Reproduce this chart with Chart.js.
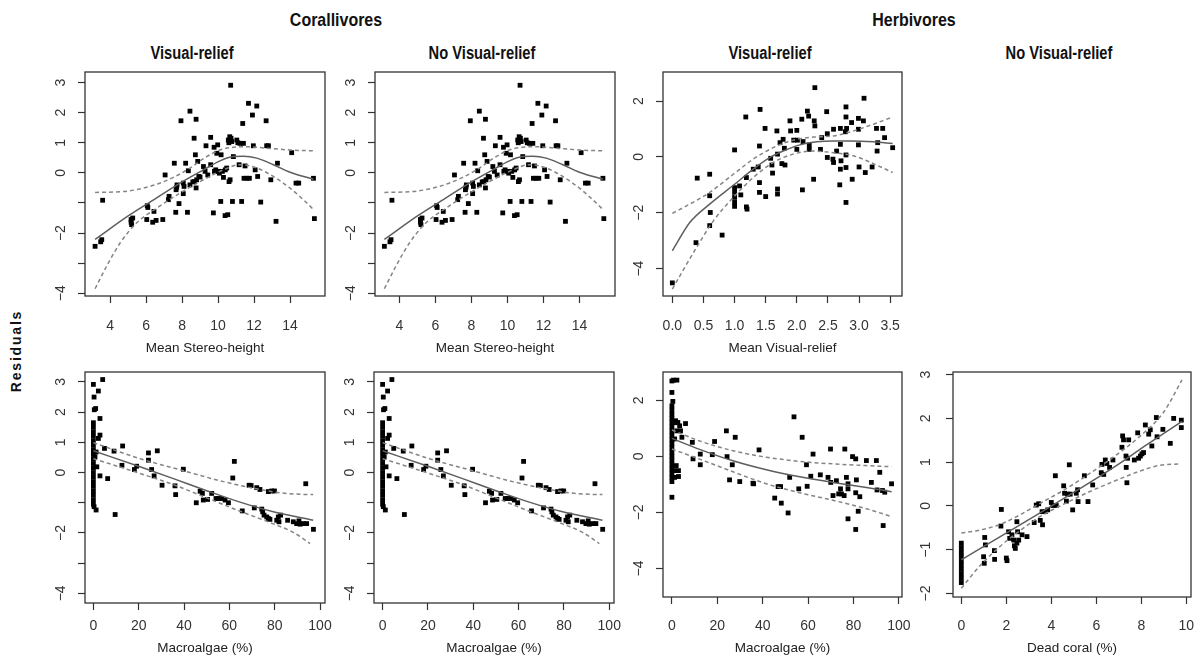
<!DOCTYPE html>
<html>
<head>
<meta charset="utf-8">
<script src="https://cdn.jsdelivr.net/npm/chart.js@4.4.1/dist/chart.umd.min.js"></script>
<style>
  body { margin: 0; background: #fff; }
  #wrap { position: relative; width: 1201px; height: 659px; overflow: hidden; }
  #wrap canvas { position: absolute; }
  .lbl { position: absolute; transform: translate(-50%, -50%) scaleX(0.84); white-space: nowrap; color: #111;
         font-family: 'Liberation Sans', Arial, sans-serif; font-weight: bold; }
</style>
</head>
<body>
<div id="wrap">
  <div class="lbl" style="left:336px;top:20px;font-size:19px;">Corallivores</div>
  <div class="lbl" style="left:914px;top:20px;font-size:19px;">Herbivores</div>
  <div class="lbl" style="left:192px;top:53px;font-size:17.5px;">Visual-relief</div>
  <div class="lbl" style="left:482px;top:53px;font-size:17.5px;">No Visual-relief</div>
  <div class="lbl" style="left:770px;top:53px;font-size:17.5px;">Visual-relief</div>
  <div class="lbl" style="left:1059px;top:53px;font-size:17.5px;">No Visual-relief</div>
  <div class="lbl" style="left:16px;top:351px;font-size:14px;letter-spacing:1.8px;transform:translate(-50%,-50%) rotate(-90deg);">Residuals</div>
</div>
<script>
// residual points, [x, y]
const stereoPts = [[3.17,-2.44],[3.48,-2.29],[3.54,-2.22],[3.59,-0.91],[5.17,-1.55],[5.17,-1.64],[5.2,-1.72],[5.26,-1.5],
  [6.04,-1.55],[6.07,-1.09],[6.1,-1.15],[6.44,-1.28],[6.37,-1.64],[6.56,-1.58],[6.93,-1.55],[7.06,-0.07],[7.24,-0.89],
  [7.28,-0.78],[7.57,0.32],[7.65,-1.31],[7.67,-0.56],[7.7,-0.48],[7.72,-0.4],[7.83,-1.02],[7.94,1.73],[8.07,-0.34],[8.11,-0.45],
  [8.07,-0.69],[8.2,0.32],[8.3,-1.31],[8.35,0.07],[8.44,2.05],[8.44,-0.4],[8.6,-0.3],[8.67,1.15],[8.69,-0.29],[8.74,0.6],
  [8.78,1.78],[8.78,-0.5],[8.81,-0.23],[8.87,0.38],[8.93,-0.12],[9.0,-0.14],[9.19,0.21],[9.28,0.05],[9.33,0.9],[9.43,-0.07],
  [9.59,1.18],[9.59,0.27],[9.74,-1.33],[9.78,0.85],[9.8,0.05],[9.87,0.1],[9.93,0.65],[9.98,0.93],[10.02,0.05],[10.07,-0.01],
  [10.15,-0.95],[10.17,0.6],[10.24,0.05],[10.3,-0.15],[10.39,-1.42],[10.4,0.1],[10.48,0.16],[10.54,-1.39],[10.57,1.09],
  [10.6,1.0],[10.61,-0.29],[10.65,1.2],[10.67,-0.23],[10.7,2.91],[10.72,1.15],[10.76,1.04],[10.8,-0.95],[10.85,0.54],
  [11.04,1.09],[11.1,1.0],[11.17,0.27],[11.22,0.98],[11.31,-0.95],[11.37,1.64],[11.41,0.98],[11.44,-0.18],[11.5,0.23],
  [11.59,-0.18],[11.69,2.31],[11.74,-0.18],[11.91,1.92],[11.96,0.9],[12.06,0.1],[12.15,2.22],[12.2,-0.12],[12.37,-0.97],
  [12.67,1.73],[12.7,0.9],[12.8,0.9],[12.93,-0.23],[13.22,-1.61],[13.3,0.32],[14.09,0.67],[14.33,-0.34],[14.48,-0.34],
  [15.3,-0.18],[15.35,-1.52]];
const stereoFit = [[3.17,-2.21],[5.11,-1.39],[6.22,-0.97],[7.89,-0.34],[9.19,0.1],[10.11,0.4],[10.85,0.54],[11.41,0.55],
  [12.15,0.49],[13.07,0.27],[14.0,0.02],[15.3,-0.21]];
const stereoUp = [[3.17,-0.65],[4.74,-0.62],[6.22,-0.45],[7.52,-0.15],[8.44,0.16],[9.37,0.54],[10.11,0.76],[10.85,0.85],
  [11.59,0.87],[12.7,0.82],[14.0,0.76],[15.3,0.73]];
const stereoLo = [[3.17,-3.85],[3.81,-3.1],[4.56,-2.33],[5.48,-1.66],[6.59,-1.17],[7.89,-0.67],[9.19,-0.23],[10.3,0.1],
  [11.22,0.27],[12.15,0.16],[13.07,-0.12],[14.0,-0.51],[14.93,-1.0],[15.3,-1.22]];

const reliefPts = [[0,-4.51],[0.38,-3.07],[0.4,-0.76],[0.6,-0.62],[0.6,-1.39],[0.61,-1.99],[0.6,-2.46],[0.8,-2.8],[1.0,0.25],
  [1.0,-1.1],[1.0,-1.27],[1.0,-1.45],[1.0,-1.63],[1.0,-1.77],[1.08,-1.04],[1.1,-1.36],[1.18,1.43],[1.19,-0.74],[1.19,-1.79],
  [1.2,-1.87],[1.3,-0.44],[1.38,-0.36],[1.4,0.39],[1.4,-0.92],[1.4,-1.27],[1.41,1.7],[1.49,1.02],[1.5,-1.42],[1.58,-0.05],
  [1.6,-0.29],[1.61,-0.58],[1.68,0.93],[1.69,0.1],[1.69,-1.15],[1.69,-1.33],[1.73,0.51],[1.76,-0.24],[1.78,0.63],[1.8,0.31],
  [1.81,-0.29],[1.89,1.29],[1.9,0.93],[1.95,0.6],[2.0,0.27],[2.0,0.95],[2.01,0.6],[2.08,1.35],[2.09,-1.18],[2.1,0.55],
  [2.17,1.64],[2.19,1.46],[2.2,0.43],[2.2,0.27],[2.27,-0.8],[2.28,1.29],[2.29,2.48],[2.29,1.11],[2.38,0.27],[2.4,0.69],
  [2.48,1.62],[2.49,-0.02],[2.49,0.83],[2.58,-0.08],[2.59,0.99],[2.59,-0.2],[2.64,0.21],[2.69,-1.0],[2.7,1.02],[2.7,0.45],
  [2.7,-0.44],[2.71,-0.14],[2.78,0.9],[2.79,1.79],[2.79,1.43],[2.79,0.07],[2.79,-0.38],[2.79,-1.63],[2.8,1.02],[2.88,1.23],
  [2.89,-0.8],[2.99,0.99],[2.99,1.38],[2.99,0.43],[3.0,-0.36],[3.07,1.29],[3.08,2.1],[3.1,-0.56],[3.21,-0.36],[3.28,1.02],
  [3.29,0.21],[3.3,0.51],[3.38,1.02],[3.41,0.69],[3.54,0.33]];
const reliefFit = [[0,-3.36],[0.28,-2.35],[0.6,-1.69],[1.0,-0.98],[1.3,-0.44],[1.57,-0.02],[1.78,0.21],[2.05,0.43],
  [2.32,0.54],[2.59,0.57],[2.86,0.57],[3.23,0.54],[3.54,0.48]];
const reliefUp = [[0,-2.02],[0.28,-1.69],[0.6,-1.27],[0.98,-0.62],[1.3,-0.08],[1.62,0.33],[1.94,0.6],[2.27,0.71],
  [2.59,0.75],[2.91,0.93],[3.23,1.17],[3.54,1.43]];
const reliefLo = [[0,-4.73],[0.17,-4.07],[0.39,-3.24],[0.66,-2.29],[0.98,-1.45],[1.3,-0.74],[1.62,-0.2],[1.94,0.1],
  [2.27,0.21],[2.59,0.15],[2.91,0.04],[3.23,-0.24],[3.54,-0.56]];

const algaeCorPts = [[0,2.92],[0.3,2.5],[0.4,2.08],[1,2.12],[0,1.65],[0,1.5],[0,1.35],[0,1.2],[0,1.05],[0,0.9],[0,0.75],
  [0,0.6],[0,0.45],[0,0.3],[0,0.15],[0,0],[0,-0.15],[0,-0.3],[0,-0.45],[0,-0.6],[0,-0.75],[0,-0.9],[0,-1.05],[0.3,-1.13],
  [1.2,-1.24],[0.7,0.52],[1.2,0.68],[1.5,0.19],[2.2,2.7],[2.9,1.79],[2.9,1.24],[2.2,1.13],[4.1,3.08],[2.9,-0.11],
  [4.9,0.8],[6.3,-0.2],[9.1,0.71],[9.6,-1.39],[12.9,0.88],[12.6,0.24],[18.1,0.1],[19.1,0.21],[24.3,0.65],[24.3,0.41],
  [25.7,0.1],[26.8,-0.11],[28.2,0.72],[30.3,-0.42],[36,-0.44],[36.3,-0.73],[39.7,0.11],[45.4,-1.0],[47.1,-0.62],
  [48.1,-0.69],[48.5,-0.91],[50.4,-0.89],[52.2,-0.69],[54.1,-0.86],[55.1,-0.86],[56.6,-0.86],[58.1,-0.91],[59.6,-1.0],
  [61.5,-0.18],[62.2,0.37],[65.7,-1.27],[68.7,-0.42],[69.6,-0.43],[71,-1.17],[72.1,-0.5],[73.5,-0.56],[74.3,-1.21],
  [74.7,-1.3],[75.3,-1.41],[76.5,-1.47],[77.2,-1.52],[77.9,-1.55],[77.2,-0.63],[78.7,-0.61],[79.9,-0.61],[80.9,-1.58],
  [81.6,-1.47],[81.9,-1.63],[82.6,-1.41],[85.7,-1.58],[88.2,-1.63],[89.7,-1.69],[90.7,-1.6],[91.2,-1.71],[92.6,-1.69],
  [93.7,-0.37],[94.1,-1.69],[97.1,-1.88]];
const algaeCorFit = [[0,0.72],[20.6,0.19],[35.3,-0.2],[50,-0.6],[64.7,-0.98],[79.4,-1.3],[97,-1.58]];
const algaeCorUp = [[0,0.99],[20.6,0.46],[39.7,0.06],[57.4,-0.3],[72.1,-0.54],[82.4,-0.67],[91.2,-0.72],[97,-0.73]];
const algaeCorLo = [[0,0.46],[20.6,-0.03],[35.3,-0.4],[50,-0.84],[64.7,-1.28],[79.4,-1.7],[88.2,-1.98],[95.6,-2.35]];

const algaeHerPts = [[0,2.69],[0.7,2.72],[2.2,2.72],[0,2.28],[0.4,1.96],[0,1.8],[0,1.65],[0,1.5],[0,1.35],[0,1.2],[0,1.05],
  [0,0.9],[0,0.75],[0,0.6],[0,0.45],[0,0.3],[0,0.15],[0,0],[0,-0.15],[0,-0.3],[0,-0.45],[0,-0.6],[0,-0.75],[0,-0.9],
  [1.2,1.2],[1.6,1.27],[2.6,1.21],[3.4,1.09],[3.8,0.91],[2.2,0.91],[6.0,1.17],[4.4,0.68],[1.2,0.62],[0,-1.46],[1.9,-0.33],
  [2.9,-0.51],[2.9,-0.72],[1.2,-0.51],[1.2,-0.75],[9,0.5],[9.3,-0.09],[12.5,0.08],[12.5,-0.3],[18.8,0.53],[17.8,0.06],
  [24,0.91],[24.3,-0.01],[25.4,-0.84],[26.6,-0.3],[27.9,0.68],[29.9,-0.9],[35.7,-0.96],[36,-0.98],[38.4,0.23],[45.3,-1.49],
  [46.8,-1.08],[47.9,-1.08],[48.2,-1.67],[51.2,-2.02],[51.9,-0.75],[53.8,1.41],[55.9,-1.16],[57.4,0.68],[59.6,-1.07],
  [59.3,-0.3],[62.2,0.08],[61.2,-0.71],[65.4,-0.66],[68.8,-0.75],[69.9,0.26],[70,-0.93],[71,-1.4],[72.5,-0.87],
  [73.5,-1.34],[74.3,-1.16],[74.7,-1.34],[75.9,-1.4],[76.2,0.26],[76.9,-0.75],[77.6,-1.16],[77.6,-0.98],[77.6,-2.23],
  [79.6,-0.01],[81,-0.09],[81,-2.61],[81,-1.3],[81.3,-0.84],[82.1,-1.96],[82.8,-1.44],[85.7,-0.15],[87.9,-0.93],
  [90.1,-0.15],[90.4,-1.2],[91.6,-0.57],[92.8,-1.22],[93.1,-2.47],[93.8,-1.28],[96.8,-0.98]];
const algaeHerFit = [[0,0.64],[12.2,0.25],[26.9,-0.16],[41.6,-0.48],[56.3,-0.73],[71,-0.93],[85.7,-1.11],[96.8,-1.26]];
const algaeHerUp = [[0,0.94],[12.2,0.55],[26.9,0.2],[41.6,-0.03],[56.3,-0.18],[71,-0.27],[85.7,-0.33],[96.8,-0.37]];
const algaeHerLo = [[0,0.26],[12.2,-0.1],[26.9,-0.55],[41.6,-0.98],[56.3,-1.3],[71,-1.57],[85.7,-1.87],[96.8,-2.15]];

const coralPts = [[0,-0.85],[0,-0.95],[0,-1.05],[0,-1.15],[0,-1.25],[0,-1.35],[0,-1.45],[0,-1.55],[0,-1.65],[0,-1.75],
  [1.04,-0.72],[1.07,-0.89],[0.99,-1.16],[1.02,-1.31],[1.47,-1.02],[1.48,-1.22],[1.78,-0.08],[1.76,-0.46],[2.0,-1.19],
  [2.03,-1.25],[2.1,-0.59],[2.15,-0.74],[2.25,-0.66],[2.33,-0.78],[2.36,-0.91],[2.4,-0.97],[2.47,-0.85],[2.47,-0.36],
  [2.5,-0.59],[2.55,-0.78],[2.7,-0.66],[2.92,-0.7],[3.24,-0.38],[3.33,0.02],[3.44,0.05],[3.51,-0.33],[3.61,-0.43],
  [3.59,-0.13],[3.73,-0.13],[3.84,-0.09],[4.0,0.08],[4.07,0.01],[4.18,0.69],[4.22,0.01],[4.55,0.46],[4.59,0.29],
  [4.67,0.11],[4.73,0.27],[4.8,0.94],[4.84,0.27],[4.95,-0.09],[5.11,0.29],[5.17,0.37],[5.19,0.1],[5.47,0.69],[5.63,0.1],
  [5.84,0.48],[6.22,0.76],[6.25,0.95],[6.33,0.72],[6.4,1.05],[6.47,0.97],[6.59,0.88],[6.74,1.05],[7.14,1.34],[7.17,1.6],
  [7.21,1.51],[7.32,1.14],[7.33,0.88],[7.36,0.53],[7.44,1.51],[7.39,1.09],[7.69,1.05],[7.84,1.67],[7.88,1.09],[7.96,1.14],
  [8.03,1.19],[8.1,1.22],[8.18,1.85],[8.33,1.64],[8.4,1.74],[8.47,1.37],[8.67,2.02],[8.7,1.58],[8.96,1.75],[9.29,1.43],
  [9.44,2.0],[9.78,1.96],[9.78,1.79]];
const coralFit = [[0,-1.23],[2.33,-0.52],[3.81,-0.06],[5.29,0.4],[6.77,0.88],[8.25,1.4],[9.81,1.93]];
const coralUp = [[0,-0.62],[0.84,-0.55],[1.73,-0.42],[2.62,-0.2],[3.51,0.06],[4.55,0.36],[5.59,0.7],[6.77,1.12],
  [7.96,1.6],[8.99,2.14],[9.81,2.88]];
const coralLo = [[0,-1.88],[0.84,-1.36],[1.73,-0.92],[2.62,-0.56],[3.51,-0.24],[4.55,0.04],[5.59,0.3],[6.77,0.56],
  [7.96,0.8],[8.84,0.93],[9.73,0.96]];

// tick values and labels
const stereoTicks = [4, 6, 8, 10, 12, 14];
const reliefTicks = [0, 0.5, 1, 1.5, 2, 2.5, 3, 3.5];
const reliefLabels = ['0.0', '0.5', '1.0', '1.5', '2.0', '2.5', '3.0', '3.5'];
const algaeTicks = [0, 20, 40, 60, 80, 100];
const coralTicks = [0, 2, 4, 6, 8, 10];
const resTicksCor = [-4, -3, -2, -1, 0, 1, 2, 3];
const resLabelsCor = ['\u22124', '', '\u22122', '', '0', '1', '2', '3'];
const resTicksHer = [-4, -2, 0, 2];
const resTicksDead = [-2, -1, 0, 1, 2, 3];

const FONT = "'Liberation Sans', Arial, sans-serif";
const minus = v => (v < 0 ? '\u2212' + Math.abs(v) : String(v));

const boxPlugin = {
  id: 'box',
  afterDraw(chart) {
    const a = chart.chartArea, ctx = chart.ctx;
    ctx.save();
    ctx.strokeStyle = '#333';
    ctx.lineWidth = 1.3;
    ctx.strokeRect(a.left, a.top, a.right - a.left, a.bottom - a.top);
    ctx.restore();
  }
};

function xy(arr) { return arr.map(p => ({ x: p[0], y: p[1] })); }

function panel(p) {
  const yw = 60, rp = 16, xh = Math.round(p.titleY - p.B + 10.5);
  const c = document.createElement('canvas');
  c.width = p.R - p.L + yw + rp;
  c.height = 4 + p.B - p.T + xh;
  c.style.left = (p.L - yw) + 'px';
  c.style.top = (p.T - 4) + 'px';
  document.getElementById('wrap').appendChild(c);

  const curve = (d, dash, col) => ({
    data: xy(d), showLine: true, pointRadius: 0, borderColor: col, borderWidth: 1.5,
    borderDash: dash, cubicInterpolationMode: 'monotone', fill: false, order: 0
  });

  new Chart(c, {
    type: 'scatter',
    data: {
      datasets: [
        { data: xy(p.pts), pointStyle: 'rect', pointRadius: 3.4, backgroundColor: '#000', borderWidth: 0, order: 1 },
        curve(p.fit, [], '#5e5e5e'),
        curve(p.up, [4, 3], '#858585'),
        curve(p.lo, [4, 3], '#858585')
      ]
    },
    options: {
      responsive: false,
      animation: false,
      layout: { padding: { left: 0, top: 4, right: rp, bottom: 0 } },
      plugins: { legend: { display: false }, tooltip: { enabled: false } },
      scales: {
        x: {
          type: 'linear', min: p.xMin, max: p.xMax,
          afterBuildTicks: s => { s.ticks = p.xTicks.map(v => ({ value: v })); },
          afterFit: s => { s.height = xh; s.paddingLeft = 0; s.paddingRight = 0; },
          ticks: {
            autoSkip: false, maxRotation: 0, padding: p.xPad, color: '#333',
            font: { family: FONT, size: 14 },
            callback: (v, i) => (p.xLabels ? p.xLabels[i] : String(p.xTicks[i]))
          },
          grid: { drawOnChartArea: false, tickLength: 7, tickColor: '#333', tickWidth: 1.2 },
          border: { display: false },
          title: { display: true, text: p.xTitle, color: '#222', font: { family: FONT, size: 13.5 }, padding: { top: 0, bottom: 2 } }
        },
        y: {
          type: 'linear', min: p.yMin, max: p.yMax,
          afterBuildTicks: s => { s.ticks = p.yTicks.map(v => ({ value: v })); },
          afterFit: s => { s.width = yw; s.paddingTop = 0; s.paddingBottom = 0; },
          ticks: {
            autoSkip: false, minRotation: 90, maxRotation: 90, crossAlign: 'center', padding: p.yPad, color: '#333',
            font: { family: FONT, size: 14 },
            callback: (v, i) => (p.yLabels ? p.yLabels[i] : minus(p.yTicks[i]))
          },
          grid: { drawOnChartArea: false, tickLength: 7, tickColor: '#333', tickWidth: 1.2 },
          border: { display: false }
        }
      }
    },
    plugins: [boxPlugin]
  });
}

const topRow = { T: 72, B: 296, titleY: 347, xPad: 15 };
panel(Object.assign({}, topRow, { L: 85, R: 325, xMin: 2.61, xMax: 15.94, yMin: -4.09, yMax: 3.35,
  pts: stereoPts, fit: stereoFit, up: stereoUp, lo: stereoLo, xTicks: stereoTicks,
  yTicks: resTicksCor, yLabels: resLabelsCor, yPad: 9, xTitle: 'Mean Stereo-height' }));
panel(Object.assign({}, topRow, { L: 375, R: 615, xMin: 2.65, xMax: 15.97, yMin: -4.09, yMax: 3.35,
  pts: stereoPts, fit: stereoFit, up: stereoUp, lo: stereoLo, xTicks: stereoTicks,
  yTicks: resTicksCor, yLabels: resLabelsCor, yPad: 9, xTitle: 'Mean Stereo-height' }));
panel(Object.assign({}, topRow, { L: 663, R: 902, xMin: -0.15, xMax: 3.69, yMin: -4.98, yMax: 3.04,
  pts: reliefPts, fit: reliefFit, up: reliefUp, lo: reliefLo, xTicks: reliefTicks, xLabels: reliefLabels,
  yTicks: resTicksHer, yPad: 9, xTitle: 'Mean Visual-relief' }));

const botRow = { T: 372, titleY: 647 };
panel(Object.assign({}, botRow, { L: 85, R: 325, B: 603, xPad: 8, xMin: -3.7, xMax: 102.2, yMin: -4.32, yMax: 3.33,
  pts: algaeCorPts, fit: algaeCorFit, up: algaeCorUp, lo: algaeCorLo, xTicks: algaeTicks,
  yTicks: resTicksCor, yLabels: resLabelsCor, yPad: 9, xTitle: 'Macroalgae (%)' }));
panel(Object.assign({}, botRow, { L: 374, R: 614, B: 603, xPad: 8, xMin: -3.8, xMax: 102.1, yMin: -4.32, yMax: 3.33,
  pts: algaeCorPts, fit: algaeCorFit, up: algaeCorUp, lo: algaeCorLo, xTicks: algaeTicks,
  yTicks: resTicksCor, yLabels: resLabelsCor, yPad: 9, xTitle: 'Macroalgae (%)' }));
panel(Object.assign({}, botRow, { L: 663, R: 902, B: 597, xPad: 14, xMin: -3.93, xMax: 101.4, yMin: -5.02, yMax: 3.01,
  pts: algaeHerPts, fit: algaeHerFit, up: algaeHerUp, lo: algaeHerLo, xTicks: algaeTicks,
  yTicks: resTicksHer, yPad: 9, xTitle: 'Macroalgae (%)' }));
panel(Object.assign({}, botRow, { L: 953, R: 1191, B: 597, xPad: 14, xMin: -0.37, xMax: 10.21, yMin: -2.08, yMax: 3.06,
  pts: coralPts, fit: coralFit, up: coralUp, lo: coralLo, xTicks: coralTicks,
  yTicks: resTicksDead, yPad: 12, xTitle: 'Dead coral (%)' }));
</script>
</body>
</html>
